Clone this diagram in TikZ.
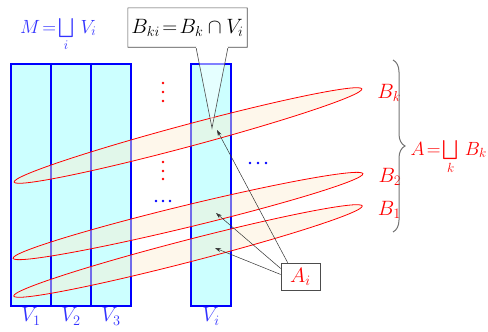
\documentclass[tikz,border=0pt]{standalone}
\usepackage{amsmath}
\usepackage{graphicx}
\usepackage{tikz}
\usetikzlibrary{arrows.meta,calc,positioning,shapes.geometric,decorations.pathreplacing}
\definecolor{colfill}{RGB}{204,255,255}
\definecolor{colblue}{RGB}{0,0,255}
\definecolor{lblblue}{RGB}{50,50,255}
\definecolor{setred}{RGB}{255,0,0}
\definecolor{cream}{RGB}{252,238,210}
\newcommand{\unionlbl}[1]{\scalebox{0.92}{#1}}

\begin{document}
\begin{tikzpicture}[x=1pt,y=-1pt,
		col/.style={draw=colblue, line width=1.2pt, fill=colfill, minimum width=40pt, minimum height=242pt, inner sep=0pt},
		blob/.style={draw=setred, line width=0.8pt, fill=cream, fill opacity=0.45, ellipse, minimum width=360pt, minimum height=22pt, inner sep=0pt},
		vlbl/.style={text=lblblue, font=\huge, below, inner sep=1pt},
		blbl/.style={text=setred, font=\huge, inner sep=0pt},
		union/.style={font=\huge, inner sep=0pt},
		tag/.style={draw=black!70, fill=white, font=\huge, line width=0.6pt, inner sep=2pt},
		>={Stealth[length=6pt,width=4pt]}
	]
	\useasboundingbox (0,0) rectangle (488,332);

	\node[col] (v1) at (31,185) {};
	\node[col] (v2) at (71,185) {};
	\node[col] (v3) at (111,185) {};
	\node[col] (vi) at (211,185) {};

	\node[vlbl] (l1) at (v1.south) {$V_1$};
	\node[vlbl] (l2) at (v2.south) {$V_2$};
	\node[vlbl] (l3) at (v3.south) {$V_3$};
	\node[vlbl] (li) at (vi.south) {$V_i$};
	\node[union, text=lblblue, anchor=base west] (mset) at (20,33) {\unionlbl{$M\!=\!\bigsqcup\limits_i\,V_i$}};

	\node[blob, rotate=15] (bk) at (188,135.5) {};
	\node[blob, rotate=13.6] (b2) at (188,216) {};
	\node[blob, rotate=14.5] (b1) at (188,251) {};

	\node[blbl, anchor=west] (lk) at ([xshift=15pt,yshift=-4pt]bk.east) {$B_k$};
	\node[blbl, anchor=west] (lb2) at ([xshift=15pt,yshift=-3pt]b2.east) {$B_2$};
	\node[blbl, anchor=west] (lb1) at ([xshift=15pt,yshift=-4pt]b1.east) {$B_1$};

	% dots
	\foreach \y in {83,92,101,162,171,179}
		\fill[setred] (163,\y) circle (1.3pt);
	\foreach \x in {156,163,170}
		\fill[colblue] (\x,201) circle (1.3pt);
	\foreach \x in {250,258,266}
		\fill[colblue] (\x,163) circle (1.3pt);

	% callout
	\node[font=\huge, minimum width=119pt, minimum height=39pt, inner sep=0pt] (bki) at (187.5,27.5)
		{$B_{ki}\!=\!B_k\cap V_i$};
	\coordinate (ptip) at (212,128);
	\fill[white, fill opacity=0.5] ([xshift=8.5pt]bki.south) -- (ptip) -- ([xshift=40.5pt]bki.south) -- cycle;
	\draw[black!70, line width=0.6pt] ([xshift=8.5pt]bki.south) -- (bki.south west) -- (bki.north west)
		-- (bki.north east) -- (bki.south east) -- ([xshift=40.5pt]bki.south) -- (ptip) -- cycle;
	\draw[white, line width=1pt] ([xshift=8.5pt]bki.south) -- ([xshift=40.5pt]bki.south);

	\coordinate (btop) at (393,60);
	\coordinate (bbot) at (393,232);
	\draw[decorate, decoration={brace, amplitude=12pt}, draw=black!55, line width=1pt] (btop) -- (bbot);
	\node[union, text=setred, anchor=base east] (aset) at (487,155) {\unionlbl{$A\!=\!\bigsqcup\limits_k\,B_k$}};

	\node[tag, text=setred, minimum width=39pt, minimum height=27pt] (ai) at (300.5,276.5) {$A_i$};
	\coordinate (p1) at (217,130);
	\coordinate (p2) at (216,213);
	\coordinate (p3) at (215,248);
	\draw[->, draw=black!80, line width=0.5pt] ([xshift=7pt]ai.north west) -- (p1);
	\draw[->, draw=black!80, line width=0.5pt] ([yshift=8pt]ai.west) -- (p2);
	\draw[->, draw=black!80, line width=0.5pt] ([yshift=2pt]ai.west) -- (p3);
\end{tikzpicture}
\end{document}
